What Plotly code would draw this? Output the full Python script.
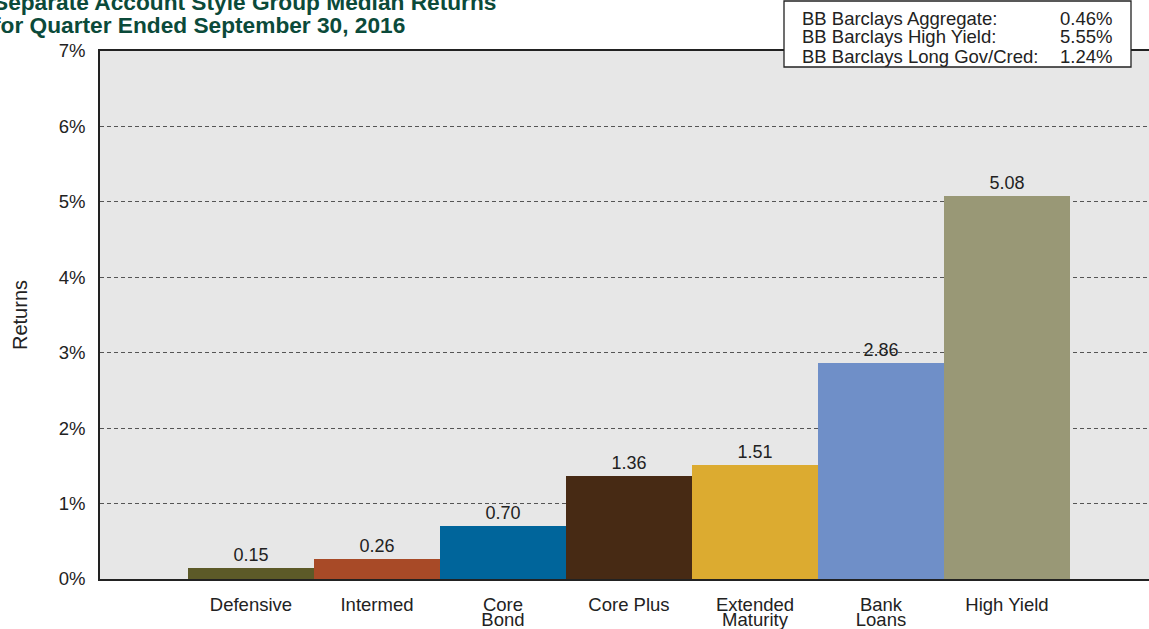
import plotly.graph_objects as go

# ---- data ----
categories = ["Defensive", "Intermed", "Core Bond", "Core Plus", "Extended Maturity", "Bank Loans", "High Yield"]
label_line1 = ["Defensive", "Intermed", "Core", "Core Plus", "Extended", "Bank", "High Yield"]
label_line2 = ["", "", "Bond", "", "Maturity", "Loans", ""]
median_returns = [0.15, 0.26, 0.70, 1.36, 1.51, 2.86, 5.08]
bar_colors = ["#5c5a28", "#a84a27", "#00659b", "#472a14", "#dcab30", "#6f8fc8", "#999876"]

benchmark_names = ["BB Barclays Aggregate:", "BB Barclays High Yield:", "BB Barclays Long Gov/Cred:"]
benchmark_values = ["0.46%", "5.55%", "1.24%"]

y_ticks = [0, 1, 2, 3, 4, 5, 6, 7]
y_tick_labels = ["0%", "1%", "2%", "3%", "4%", "5%", "6%", "7%"]

title_lines = ["Separate Account Style Group Median Returns",
               "for Quarter Ended September 30, 2016"]

# ---- geometry helpers (pixels -> paper) ----
W, H = 1149, 629
ML, MR, MT, MB = 100, 0, 51, 50
PW, PH = W - ML - MR, H - MT - MB


def px(x):
    return (x - ML) / PW


def py(y):
    return (H - MB - y) / PH


FONT = "Liberation Sans, Arial, Helvetica, sans-serif"
TXT = "#222222"
FS = 18.5

fig = go.Figure()
fig.add_trace(go.Bar(
    x=categories, y=median_returns,
    marker=dict(color=bar_colors, line=dict(width=0)),
    texttemplate="%{y:.2f}", textposition="outside",
    textfont=dict(size=18, color=TXT, family=FONT),
    cliponaxis=False, showlegend=False, hoverinfo="skip",
))
# invisible trace to carry the second line of the category labels
fig.add_trace(go.Scatter(
    x=categories, y=[None] * len(categories), xaxis="x2",
    mode="markers", showlegend=False, hoverinfo="skip",
))

xrange = [-1.198, 7.127]

fig.update_layout(
    width=W, height=H,
    margin=dict(l=ML, r=MR, t=MT, b=MB, pad=0, autoexpand=False),
    paper_bgcolor="white", plot_bgcolor="#e7e7e7",
    bargap=0,
    font=dict(family=FONT, color=TXT, size=FS),
    xaxis=dict(
        type="category", range=xrange,
        tickmode="array", tickvals=categories, ticktext=label_line1,
        showgrid=False, showline=True, linecolor="#222222", linewidth=1.5, mirror=True,
        ticks="", ticklabelstandoff=8, tickfont=dict(size=FS, color=TXT),
        zeroline=False, automargin=False,
    ),
    xaxis2=dict(
        type="category", range=xrange, overlaying="x", side="bottom", anchor="y",
        tickmode="array", tickvals=categories, ticktext=label_line2,
        showgrid=False, showline=False, ticks="", ticklabelstandoff=27,
        tickfont=dict(size=FS, color=TXT), zeroline=False, automargin=False,
    ),
    yaxis=dict(
        range=[0, 7], tickmode="array", tickvals=y_ticks, ticktext=y_tick_labels,
        showgrid=True, gridcolor="#555555", gridwidth=1, griddash="4px,3px",
        showline=True, linecolor="#222222", linewidth=1.5,
        ticks="", ticklabelstandoff=9, tickfont=dict(size=FS, color=TXT),
        zeroline=False, automargin=False,
        title=dict(text="Returns", font=dict(size=20, color=TXT), standoff=26),
    ),
)

# title (partially cropped at the left/top like the reference)
title_y = [2, 25]
for t, yy in zip(title_lines, title_y):
    fig.add_annotation(
        text="<b>" + t + "</b>", xref="paper", yref="paper",
        x=px(-9), y=py(yy), xanchor="left", yanchor="middle",
        showarrow=False, font=dict(size=22.7, color="#0b4a3a", family=FONT),
    )

# benchmark box
fig.add_shape(
    type="rect", xref="paper", yref="paper",
    x0=px(784), x1=px(1131), y0=py(67), y1=py(1),
    fillcolor="white", line=dict(color="#222222", width=1.3), layer="above",
)
row_y = [18, 37, 56]
for name, val, yy in zip(benchmark_names, benchmark_values, row_y):
    fig.add_annotation(text=name, xref="paper", yref="paper", x=px(800), y=py(yy),
                       xanchor="left", yanchor="middle", showarrow=False,
                       font=dict(size=FS, color=TXT, family=FONT))
    fig.add_annotation(text=val, xref="paper", yref="paper", x=px(1114), y=py(yy),
                       xanchor="right", yanchor="middle", showarrow=False,
                       font=dict(size=FS, color=TXT, family=FONT))

fig.write_html(
    "out.html",
    config={"displayModeBar": False},
    post_script="document.body.style.margin='0';document.body.style.padding='0';",
)
